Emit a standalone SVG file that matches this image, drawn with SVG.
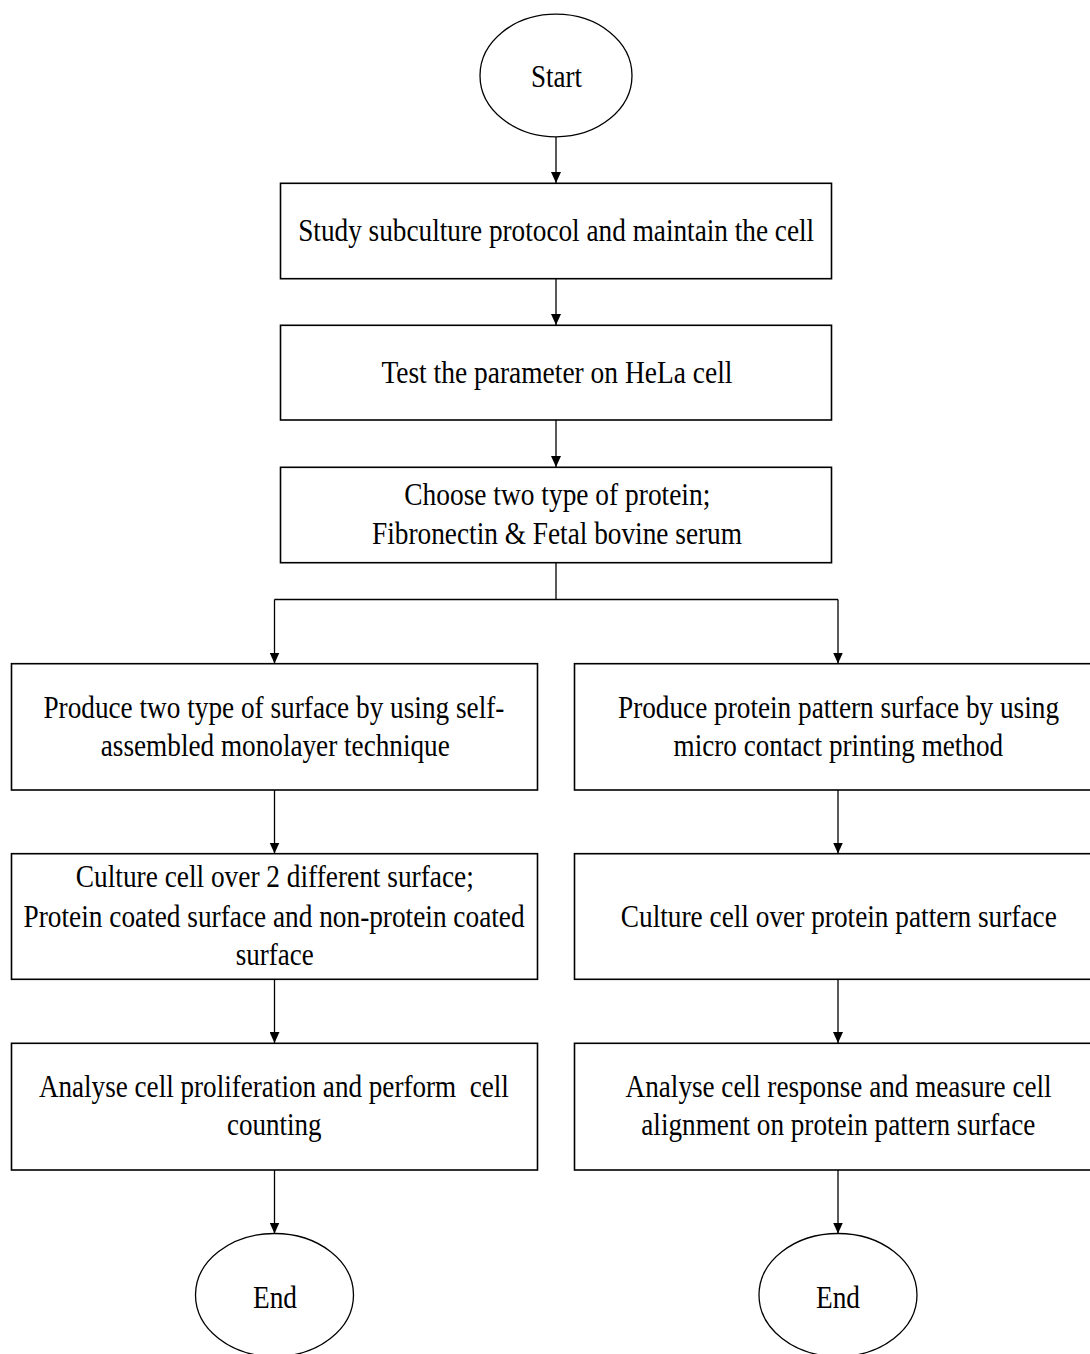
<svg xmlns="http://www.w3.org/2000/svg" width="1090" height="1354" viewBox="0 0 1090 1354">
<style>
.box{fill:#fff;stroke:#000;stroke-width:1.6}
.term{fill:#fff;stroke:#000;stroke-width:1.3}
.conn{fill:none;stroke:#000;stroke-width:1.3}
text{font-family:'Liberation Serif','Times New Roman','DejaVu Serif',serif;font-size:32px;fill:#000;white-space:pre}
</style>
<defs>
<marker id="arr" markerUnits="userSpaceOnUse" markerWidth="11" markerHeight="10" refX="11" refY="5" orient="auto">
<path d="M0,0 L11,5 L0,10 z" fill="#000"/>
</marker>
</defs>
<rect width="1090" height="1354" fill="#fff"/>
<g id="connectors">
<path class="conn" d="M556 137 V183" marker-end="url(#arr)"/>
<path class="conn" d="M556 279 V325" marker-end="url(#arr)"/>
<path class="conn" d="M556 420 V467" marker-end="url(#arr)"/>
<path class="conn" d="M556 563 V599.5"/>
<path class="conn" d="M274.5 599.5 H838"/>
<path class="conn" d="M274.5 599.5 V663.5" marker-end="url(#arr)"/>
<path class="conn" d="M838 599.5 V663.5" marker-end="url(#arr)"/>
<path class="conn" d="M274.5 790 V853.5" marker-end="url(#arr)"/>
<path class="conn" d="M274.5 979.5 V1043" marker-end="url(#arr)"/>
<path class="conn" d="M274.5 1170 V1233.5" marker-end="url(#arr)"/>
<path class="conn" d="M838 790 V853.5" marker-end="url(#arr)"/>
<path class="conn" d="M838 979.5 V1043" marker-end="url(#arr)"/>
<path class="conn" d="M838 1170 V1233.5" marker-end="url(#arr)"/>
</g>
<g font-family="'Liberation Serif','Times New Roman','DejaVu Serif',serif">
<g id="start">
<ellipse class="term" cx="556" cy="75.5" rx="76" ry="61.3"/>
<text x="531" y="87.3" textLength="51" lengthAdjust="spacingAndGlyphs">Start</text>
</g>
<g id="study">
<rect class="box" x="280.5" y="183.3" width="551" height="95.4"/>
<text x="298.2" y="241" textLength="516" lengthAdjust="spacingAndGlyphs">Study subculture protocol and maintain the cell</text>
</g>
<g id="test">
<rect class="box" x="280.5" y="325.3" width="551" height="94.7"/>
<text x="381.4" y="383.3" textLength="351" lengthAdjust="spacingAndGlyphs">Test the parameter on HeLa cell</text>
</g>
<g id="choose">
<rect class="box" x="280.5" y="467.3" width="551" height="95.4"/>
<text x="404.3" y="505" textLength="306" lengthAdjust="spacingAndGlyphs">Choose two type of protein;</text>
<text x="372" y="544.3" textLength="370" lengthAdjust="spacingAndGlyphs">Fibronectin &amp; Fetal bovine serum</text>
</g>
<g id="sam">
<rect class="box" x="11.5" y="663.7" width="526" height="126.3"/>
<text x="43.4" y="717.7" textLength="461" lengthAdjust="spacingAndGlyphs">Produce two type of surface by using self-</text>
<text x="100.8" y="756" textLength="349" lengthAdjust="spacingAndGlyphs">assembled monolayer technique</text>
</g>
<g id="culture-left">
<rect class="box" x="11.5" y="853.7" width="526" height="125.6"/>
<text x="75.8" y="887.3" textLength="398" lengthAdjust="spacingAndGlyphs">Culture cell over 2 different surface;</text>
<text x="23.6" y="926.7" textLength="501" lengthAdjust="spacingAndGlyphs">Protein coated surface and non-protein coated</text>
<text x="235.7" y="965" textLength="78" lengthAdjust="spacingAndGlyphs">surface</text>
</g>
<g id="analyse-left">
<rect class="box" x="11.5" y="1043.3" width="526" height="126.7"/>
<text x="38.9" y="1096.7" textLength="470" lengthAdjust="spacingAndGlyphs">Analyse cell proliferation and perform  cell</text>
<text x="227" y="1135" textLength="94.5" lengthAdjust="spacingAndGlyphs">counting</text>
</g>
<g id="pattern">
<rect class="box" x="574.5" y="663.7" width="526" height="126.3"/>
<text x="618" y="717.7" textLength="441" lengthAdjust="spacingAndGlyphs">Produce protein pattern surface by using</text>
<text x="673.6" y="756" textLength="329.5" lengthAdjust="spacingAndGlyphs">micro contact printing method</text>
</g>
<g id="culture-right">
<rect class="box" x="574.5" y="853.7" width="526" height="125.6"/>
<text x="620.8" y="926.7" textLength="436" lengthAdjust="spacingAndGlyphs">Culture cell over protein pattern surface</text>
</g>
<g id="analyse-right">
<rect class="box" x="574.5" y="1043.3" width="526" height="126.7"/>
<text x="625.6" y="1096.7" textLength="426" lengthAdjust="spacingAndGlyphs">Analyse cell response and measure cell</text>
<text x="641.3" y="1135" textLength="394" lengthAdjust="spacingAndGlyphs">alignment on protein pattern surface</text>
</g>
<g id="end-left">
<ellipse class="term" cx="274.5" cy="1295" rx="79" ry="61.5"/>
<text x="253" y="1308.3" textLength="44" lengthAdjust="spacingAndGlyphs">End</text>
</g>
<g id="end-right">
<ellipse class="term" cx="838" cy="1295" rx="79" ry="61.5"/>
<text x="816" y="1308.3" textLength="44" lengthAdjust="spacingAndGlyphs">End</text>
</g>
</g>
</svg>
